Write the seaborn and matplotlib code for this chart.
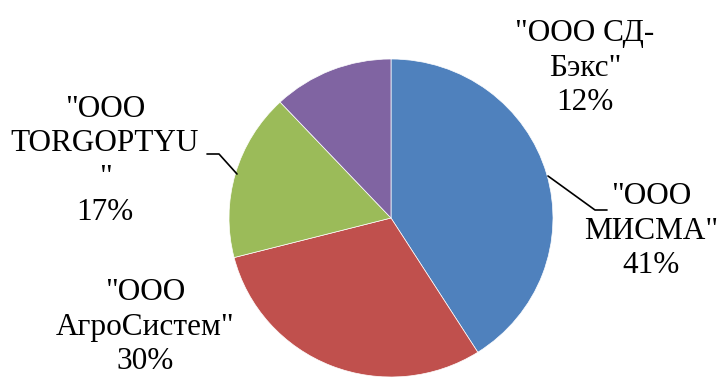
import matplotlib
matplotlib.use("Agg")
import matplotlib.pyplot as plt
import seaborn as sns

companies = ['"ООО\nМИСМА"', '"ООО\nАгроСистем"', '"ООО\nTORGOPTYU\n"', '"ООО СД-\nБэкс"']
shares = [41, 30, 17, 12]
colors = ["#4F81BD", "#C0504D", "#9BBB59", "#8064A2"]

sns.set_theme(style="white")
plt.rcParams['font.family'] = ['Liberation Serif', 'DejaVu Serif']

W, H = 720, 379
ys = 162 / 159.0  # vertical squash of the pie


def Y(py):
    return (H - py) * ys


fig = plt.figure(figsize=(7.2, 3.79), dpi=100)
ax = fig.add_axes([0, 0, 1, 1])

cx, cy, r = 391, Y(218), 162
palette = sns.color_palette(colors)
ax.pie(shares, colors=palette, startangle=90, counterclock=False,
       center=(cx, cy), radius=r, wedgeprops=dict(linewidth=0.5, edgecolor="white"))
ax.set_xlim(0, W)
ax.set_ylim(0, H * ys)
ax.set_aspect('auto')
ax.axis('off')

label_pos = [(651, 231), (145, 327), (105, 161), (585, 68)]
total = sum(shares)
for name, v, (x, y) in zip(companies, shares, label_pos):
    txt = f"{name}\n{round(100*v/total)}%"
    ax.text(x, Y(y), txt, ha='center', va='center', fontsize=22.5,
            linespacing=1.25, color='black')

# leader lines
ax.plot([548, 595, 607], [Y(176), Y(210), Y(210)], color='black', lw=1.2)
ax.plot([207, 219, 237], [Y(154), Y(154), Y(174)], color='black', lw=1.2)

fig.savefig("out.png", dpi=100)
